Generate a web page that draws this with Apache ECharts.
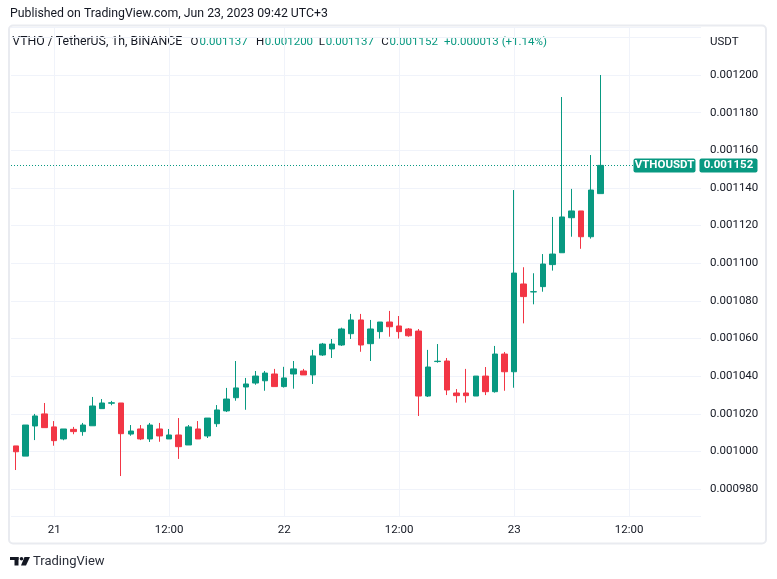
<!DOCTYPE html>
<html><head><meta charset="utf-8">
<script src="https://cdn.jsdelivr.net/npm/echarts@6/dist/echarts.min.js"></script>
<style>html,body{margin:0;padding:0;background:#fff}#c{width:777px;height:579px}</style>
</head><body><div id="c"></div>
<script>
// ---- data (VTHO/USDT, 1h, from Jun 20 20:00) ----
const opens  = [0.0010030,0.0009976,0.0010136,0.0010200,0.0010131,0.0010067,0.0010118,0.0010106,0.0010137,0.0010228,
                0.0010257,0.0010258,0.0010093,0.0010120,0.0010067,0.0010120,0.0010067,0.0010088,0.0010035,0.0010120,
                0.0010083,0.0010148,0.0010216,0.0010286,0.0010343,0.0010364,0.0010376,0.0010412,0.0010345,0.0010412,
                0.0010428,0.0010407,0.0010513,0.0010545,0.0010566,0.0010626,0.0010699,0.0010573,0.0010637,0.0010688,
                0.0010667,0.0010651,0.0010640,0.0010295,0.0010478,0.0010481,0.0010311,0.0010311,0.0010295,0.0010401,
                0.0010318,0.0010518,0.0010424,0.0010890,0.0010848,0.0010876,0.0010993,0.0011056,0.0011242,0.0011278,
                0.0011141,0.0011370];
const highs  = [0.0010030,0.0010141,0.0010200,0.0010258,0.0010162,0.0010120,0.0010131,0.0010152,0.0010290,0.0010279,
                0.0010269,0.0010258,0.0010141,0.0010141,0.0010152,0.0010152,0.0010120,0.0010178,0.0010141,0.0010162,
                0.0010178,0.0010247,0.0010338,0.0010481,0.0010391,0.0010428,0.0010428,0.0010439,0.0010450,0.0010481,
                0.0010439,0.0010540,0.0010577,0.0010598,0.0010658,0.0010731,0.0010731,0.0010699,0.0010688,0.0010747,
                0.0010720,0.0010656,0.0010651,0.0010540,0.0010571,0.0010497,0.0010332,0.0010439,0.0010401,0.0010449,
                0.0010561,0.0010529,0.0011389,0.0010979,0.0010947,0.0011049,0.0011246,0.0011883,0.0011395,0.0011278,
                0.0011575,0.0012000];
const lows   = [0.0009902,0.0009976,0.0010061,0.0010127,0.0010031,0.0010060,0.0010092,0.0010084,0.0010137,0.0010228,
                0.0010246,0.0009870,0.0010084,0.0010061,0.0010051,0.0010052,0.0010067,0.0009961,0.0010035,0.0010067,
                0.0010072,0.0010131,0.0010210,0.0010270,0.0010222,0.0010355,0.0010323,0.0010345,0.0010340,0.0010334,
                0.0010407,0.0010359,0.0010508,0.0010497,0.0010561,0.0010598,0.0010530,0.0010481,0.0010600,0.0010610,
                0.0010600,0.0010610,0.0010189,0.0010290,0.0010472,0.0010300,0.0010260,0.0010260,0.0010295,0.0010300,
                0.0010313,0.0010323,0.0010339,0.0010681,0.0010782,0.0010849,0.0010961,0.0011056,0.0011141,0.0011077,
                0.0011131,0.0011370];
const closes = [0.0009999,0.0010141,0.0010189,0.0010127,0.0010058,0.0010120,0.0010106,0.0010141,0.0010242,0.0010258,
                0.0010259,0.0010095,0.0010109,0.0010067,0.0010141,0.0010083,0.0010088,0.0010026,0.0010131,0.0010067,
                0.0010178,0.0010221,0.0010279,0.0010338,0.0010359,0.0010401,0.0010417,0.0010345,0.0010391,0.0010439,
                0.0010407,0.0010508,0.0010571,0.0010571,0.0010651,0.0010699,0.0010566,0.0010651,0.0010688,0.0010663,
                0.0010637,0.0010615,0.0010295,0.0010449,0.0010480,0.0010327,0.0010297,0.0010297,0.0010401,0.0010318,
                0.0010518,0.0010424,0.0010948,0.0010823,0.0010849,0.0010996,0.0011049,0.0011246,0.0011278,0.0011141,
                0.0011389,0.0011520];
// 72 hourly slots on the time axis (62 candles + empty space on the right)
const categories = [];
(function(){ const p = n => String(n).padStart(2,'0');
  for (let k = 0; k < 72; k++) { const t = new Date(Date.UTC(2023, 5, 20, 20 + k));
    categories.push(p(t.getUTCMonth()+1) + '-' + p(t.getUTCDate()) + ' ' + p(t.getUTCHours()) + ':00'); } })();
const timeTickLabels = {'06-21 00:00':'21','06-21 12:00':'12:00','06-22 00:00':'22','06-22 12:00':'12:00','06-23 00:00':'23','06-23 12:00':'12:00'};
const priceStep = 0.00002;
const lastPrice = 0.001152;
const headerParts = [
  ['VTHO / TetherUS, 1h, BINANCE', 't'], ['O', 'd'], ['0.001137', 'g'], ['H', 'd'], ['0.001200', 'g'],
  ['L', 'd'], ['0.001137', 'g'], ['C', 'd'], ['0.001152', 'g'], ['+0.000013 (+1.14%)', 'g']];

// ---- drawing ----
const FONT = "Roboto, sans-serif";
const FS = 11.5, FT = 12.3;
const GREEN = '#089981', RED = '#F23645', TXT = '#131722', GRID = '#F0F3FA';
const chart = echarts.init(document.getElementById('c'), null, {renderer: 'canvas'});
const candleData = opens.map((o, k) => [o, closes[k], lows[k], highs[k]]);

const headerX = [12.3, 190.6, 199.5, 256, 264.8, 318.8, 325.7, 381.2, 389.6, 444];
const graphics = [
  {type:'rect', z:0, shape:{x:9, y:25.5, width:757, height:518, r:4}, style:{fill:'none', stroke:'#E9EBF0', lineWidth:2}, silent:true},
  {type:'text', x:10, y:14, style:{text:'Published on TradingView.com, Jun 23, 2023 09:42 UTC+3', fill:TXT, font:FT + 'px ' + FONT, verticalAlign:'middle'}},
  {type:'text', x:710, y:42, style:{text:'USDT', fill:TXT, font:FS + 'px ' + FONT, verticalAlign:'middle'}},
  // TradingView logo
  {type:'rect', shape:{x:10, y:557, width:8.5, height:3}, style:{fill:TXT}},
  {type:'rect', shape:{x:14.5, y:557, width:4, height:8.5}, style:{fill:TXT}},
  {type:'circle', shape:{cx:21.5, cy:558.7, r:1.8}, style:{fill:TXT}},
  {type:'polygon', shape:{points:[[24.5,557],[30,557],[26,565.5],[21,565.5]]}, style:{fill:TXT}},
  {type:'text', x:33, y:561.5, style:{text:'TradingView', fill:'#2A2E39', font:'13px ' + FONT, verticalAlign:'middle'}}
];
headerParts.forEach((p, k) => graphics.push({type:'text', x:headerX[k], y:42,
  style:{text:p[0], fill: p[1] === 'g' ? GREEN : TXT, font:(p[1] === 't' ? FT : FS) + 'px ' + FONT, verticalAlign:'middle'}}));

chart.setOption({
  animation: false,
  backgroundColor: '#fff',
  grid: {left: 11, right: 76, top: 27, bottom: 63},
  xAxis: {
    type: 'category', data: categories, boundaryGap: true,
    axisLine: {show:false}, axisTick: {show:false},
    axisLabel: {interval: (i, v) => v in timeTickLabels, formatter: v => timeTickLabels[v] || '',
                color: TXT, fontSize: FS, fontFamily: FONT, margin: 8},
    splitLine: {show: true, alignWithLabel: true, interval: (i, v) => v in timeTickLabels, lineStyle: {color: GRID, width: 1}}
  },
  yAxis: {
    type: 'value', position: 'right', scale: true,
    min: 0.00096578, max: 0.00122549, minInterval: priceStep, maxInterval: priceStep,
    axisLine: {show:false}, axisTick: {show:false},
    axisLabel: {margin: 9, color: TXT, fontSize: FS, fontFamily: FONT,
      formatter: v => { const r = Math.round(v / priceStep); if (Math.abs(v - r * priceStep) > 1e-10 || r >= 61) return ''; return v.toFixed(6); }},
    splitLine: {lineStyle: {color: GRID, width: 1}}
  },
  series: [{
    type: 'candlestick', data: candleData, barWidth: 6,
    itemStyle: {color: GREEN, color0: RED, borderColor: GREEN, borderColor0: RED, borderWidth: 1}
  }],
  graphic: graphics
});

// last-price line and labels, placed through the price axis
const yLast = Math.round(chart.convertToPixel({yAxisIndex: 0}, lastPrice)) + 0.5;
const extra = [
  {type:'line', z:5, shape:{x1:11, y1:yLast, x2:633, y2:yLast}, style:{stroke:GREEN, lineWidth:1, lineDash:[1,2]}},
  {type:'rect', shape:{x:633.5, y:yLast-7, width:62, height:14, r:2}, style:{fill:GREEN}},
  {type:'text', x:664.5, y:yLast, style:{text:'VTHOUSDT', fill:'#fff', font:'bold ' + FS + 'px ' + FONT, align:'center', verticalAlign:'middle'}},
  {type:'rect', shape:{x:699.5, y:yLast-7, width:58, height:14, r:2}, style:{fill:GREEN}},
  {type:'text', x:728.5, y:yLast, style:{text:lastPrice.toFixed(6), fill:'#fff', font:'bold ' + FS + 'px ' + FONT, align:'center', verticalAlign:'middle'}}
];
chart.setOption({graphic: graphics.concat(extra)});
</script></body></html>
